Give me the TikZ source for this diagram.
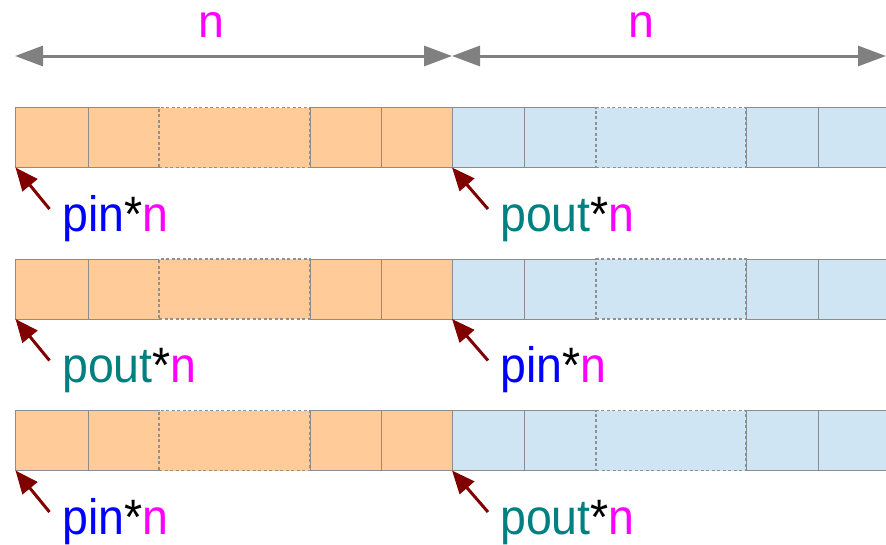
\documentclass[tikz,border=0pt]{standalone}
\usepackage{fontspec}
\setmainfont{Liberation Sans}
\usetikzlibrary{arrows.meta}
\definecolor{cOrange}{HTML}{FFCC99}
\definecolor{cBlue}{HTML}{CFE5F3}
\definecolor{cEdge}{HTML}{8C8C8C}
\definecolor{cDash}{HTML}{909090}
\definecolor{cArrow}{HTML}{808080}
\definecolor{cRed}{HTML}{800000}
\definecolor{cTeal}{HTML}{008080}
\definecolor{cMag}{HTML}{FF00FF}
\definecolor{cPin}{HTML}{0000FF}
\newcommand{\pinlbl}{\textcolor{cPin}{pin}*\textcolor{cMag}{n}}
\newcommand{\poutlbl}{\textcolor{cTeal}{pout}*\textcolor{cMag}{n}}
\tikzset{
 cellbox/.style={draw=cEdge, line width=1pt, anchor=north west, minimum height=60pt, inner sep=0pt, outer sep=0pt},
 dashbox/.style={cellbox, draw=cDash, line width=1.2pt, dash pattern=on 3pt off 2.5pt},
 lbl/.style={font=\fontsize{46.5}{56}\selectfont, inner sep=0pt, anchor=base west},
 dim/.style={draw=cArrow, line width=3pt, {Triangle[length=28pt,width=20pt]}-{Triangle[length=28pt,width=20pt]}},
 ptr/.style={draw=cRed, line width=3pt, -{Triangle[length=23pt,width=19pt]}},
}
\begin{document}
\begin{tikzpicture}[x=1pt,y=-1pt]
\useasboundingbox (0,0) rectangle (886,544);
\clip (0,0) rectangle (886,544);
% dimension arrows
\coordinate (a0) at (15,56);
\coordinate (a1) at (452,56);
\coordinate (a2) at (886,56);
\draw[dim] (a0) -- (a1);
\draw[dim] (a1) -- (a2);
\node[lbl, anchor=base, text=cMag] (n1) at (211,37) {n};
\node[lbl, anchor=base, text=cMag] (n2) at (641,37) {n};
% rows
\foreach \r/\y/\lt/\rt in {1/107.5/\pinlbl/\poutlbl, 2/259/\poutlbl/\pinlbl, 3/410.5/\pinlbl/\poutlbl}{
  \node[cellbox, fill=cOrange, minimum width=72.5pt] (c\r-1) at (15.5,\y) {};
  \node[cellbox, fill=cOrange, minimum width=71pt] (c\r-2) at (88,\y) {};
  \node[dashbox, fill=cOrange, minimum width=151pt] (c\r-3) at (159,\y) {};
  \node[cellbox, fill=cOrange, minimum width=71pt] (c\r-4) at (310,\y) {};
  \node[cellbox, fill=cOrange, minimum width=71pt] (c\r-5) at (381,\y) {};
  \node[cellbox, fill=cBlue, minimum width=72pt] (c\r-6) at (452,\y) {};
  \node[cellbox, fill=cBlue, minimum width=72pt] (c\r-7) at (524,\y) {};
  \node[dashbox, fill=cBlue, minimum width=150pt] (c\r-8) at (596,\y) {};
  \node[cellbox, fill=cBlue, minimum width=72pt] (c\r-9) at (746,\y) {};
  \node[cellbox, fill=cBlue, minimum width=73pt] (c\r-10) at (818,\y) {};
  \node[lbl] (l\r) at (62,\y+123.5) {\scalebox{1}[1.07]{\lt}};
  \node[lbl] (r\r) at (500,\y+123.5) {\scalebox{1}[1.07]{\rt}};
  \coordinate (tl\r) at ([shift={(34,41.5)}]c\r-1.south west);
  \coordinate (tr\r) at ([shift={(36,41.5)}]c\r-6.south west);
  \draw[ptr] (tl\r) -- (c\r-1.south west);
  \draw[ptr] (tr\r) -- (c\r-6.south west);
}
\end{tikzpicture}
\end{document}
